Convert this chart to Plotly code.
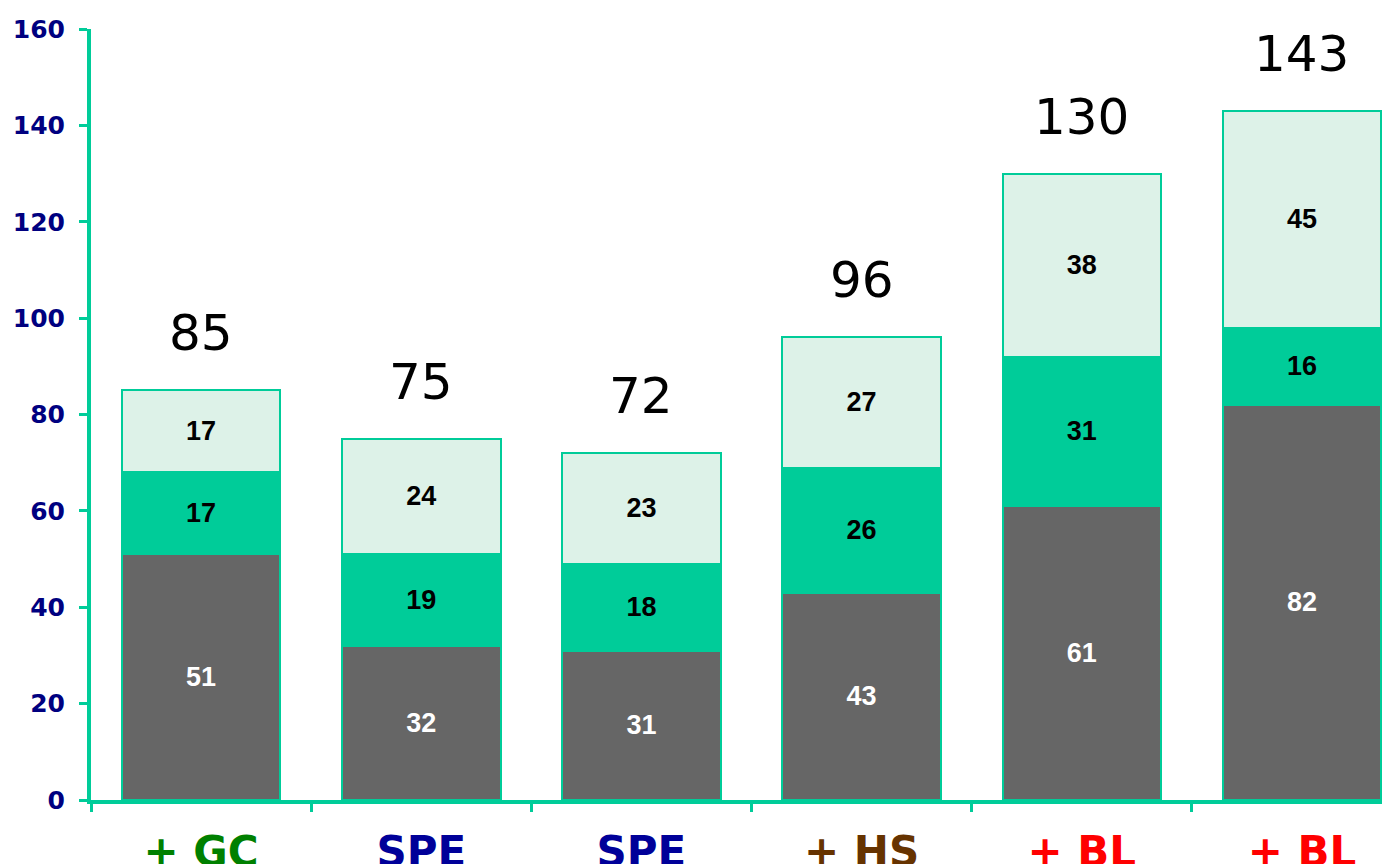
import plotly.graph_objects as go

categories = ["+ GC", "SPE", "SPE", "+ HS", "+ BL", "+ BL"]
label_colors = ["#008000", "#000099", "#000099", "#663300", "#FF0000", "#FF0000"]
bottom_vals = [51, 32, 31, 43, 61, 82]
middle_vals = [17, 19, 18, 26, 31, 16]
top_vals = [17, 24, 23, 27, 38, 45]
totals = [85, 75, 72, 96, 130, 143]
y_ticks = [0, 20, 40, 60, 80, 100, 120, 140, 160]

TEAL = "#00CC99"
x_ids = [str(i) for i in range(len(categories))]

fig = go.Figure()
series = [
    (bottom_vals, "#666666", "white"),
    (middle_vals, TEAL, "black"),
    (top_vals, "#DDF2E8", "black"),
]
for vals, color, tcolor in series:
    fig.add_trace(go.Bar(
        x=x_ids, y=vals,
        marker=dict(color=color, line=dict(color=TEAL, width=2)),
        text=[str(v) for v in vals],
        textposition="inside",
        insidetextanchor="middle",
        textangle=0,
        constraintext="none",
        textfont=dict(family="Liberation Sans, Arial", size=27, color=tcolor, weight="bold"),
        showlegend=False,
        hoverinfo="skip",
    ))

for xi, t in zip(x_ids, totals):
    fig.add_annotation(
        x=xi, y=t, text=str(t), showarrow=False,
        yanchor="bottom", yshift=26,
        font=dict(family="DejaVu Sans, Verdana", size=50, color="black"),
    )

ticktext = [f"<span style='color:{c}'>{lab}</span>" for lab, c in zip(categories, label_colors)]

fig.update_layout(
    barmode="stack",
    bargap=0.28,
    width=1382, height=856,
    margin=dict(l=83, r=0, t=21, b=64, autoexpand=False),
    plot_bgcolor="white",
    paper_bgcolor="white",
    xaxis=dict(
        type="category",
        range=[-0.5, 5.4],
        tickmode="array", tickvals=x_ids, ticktext=ticktext,
        tickson="boundaries",
        ticks="outside", ticklen=8, tickwidth=3, tickcolor=TEAL,
        showline=True, linecolor=TEAL, linewidth=4,
        showgrid=False, zeroline=False,
        ticklabelstandoff=12,
        tickfont=dict(family="DejaVu Sans, Verdana", size=42, weight="bold"),
        automargin=False,
    ),
    yaxis=dict(
        range=[0, 160],
        tickmode="array", tickvals=y_ticks,
        ticks="outside", ticklen=8, tickwidth=3, tickcolor=TEAL,
        showline=True, linecolor=TEAL, linewidth=4,
        showgrid=False, zeroline=False,
        ticklabelstandoff=9,
        tickfont=dict(family="DejaVu Sans, Verdana", size=25, color="#000080", weight="bold"),
        automargin=False,
    ),
)

fig.write_html("out.html")
